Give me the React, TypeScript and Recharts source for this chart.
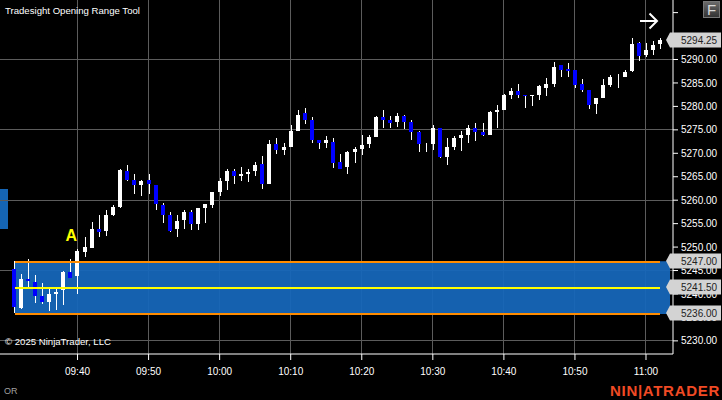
import {
  Bar,
  CartesianGrid,
  ComposedChart,
  ReferenceArea,
  ReferenceDot,
  ReferenceLine,
  XAxis,
  YAxis,
} from "recharts";

const FIRST_MINUTE = 9 * 60 + 31;

const opens = [
  5245.25, 5237, 5243.25, 5242.5, 5239.5, 5238.25, 5240, 5240.75, 5244.75, 5243.75,
  5249, 5249.75, 5253.75, 5253.5, 5256.75, 5258.5, 5266.25, 5264.25, 5263.25, 5264.25,
  5263.25, 5259, 5256.75, 5253.75, 5255.75, 5257.5, 5255, 5258.25, 5259, 5261.75,
  5264, 5266.25, 5265.25, 5265.5, 5266.25, 5267.75, 5263.5, 5272, 5270.75, 5271.25,
  5274.75, 5278.5, 5277, 5272.75, 5272.25, 5272.5, 5268.25, 5267, 5270.25, 5271,
  5272, 5273.5, 5277.75, 5277, 5276.75, 5278, 5276.75, 5274.5, 5272.25, 5272,
  5275.5, 5269.25, 5271.25, 5273.25, 5274, 5275.5, 5274.5, 5274, 5278.75, 5279.25,
  5282.5, 5283.25, 5282.5, 5282.25, 5282.5, 5284, 5284.75, 5288.75, 5288, 5287.75,
  5284.75, 5283.5, 5280.5, 5281.75, 5284.5, 5286.25, 5286.25, 5287.5, 5293.5, 5291,
  5292, 5293.25,
];
const highs = [
  5247, 5244.25, 5247.5, 5244, 5242.25, 5241, 5241.25, 5245, 5247.5, 5249.5,
  5252.25, 5255.25, 5256.75, 5258, 5259, 5266.75, 5267.5, 5265.5, 5264.25, 5265.5,
  5263.25, 5259.5, 5257.5, 5256.75, 5258, 5258, 5258.25, 5259.25, 5261.75, 5264.75,
  5266.75, 5266.75, 5267, 5266.75, 5268.25, 5269.5, 5272.75, 5273.25, 5272.25, 5276,
  5279.25, 5279.75, 5277.75, 5272.75, 5273.75, 5273.25, 5269.75, 5270.5, 5271.25, 5274,
  5274, 5278, 5279.25, 5278, 5278.5, 5278.25, 5277, 5274.75, 5272.25, 5276,
  5275.5, 5273.25, 5273.75, 5274.75, 5276, 5276.5, 5276.5, 5279, 5280.25, 5282.75,
  5284, 5284.75, 5282.5, 5282.5, 5284.5, 5286, 5289.5, 5288.75, 5289.25, 5287.75,
  5285.75, 5283.5, 5281.75, 5285.75, 5286.75, 5287, 5287.75, 5294.5, 5293.75, 5293.5,
  5294, 5294.5,
];
const lows = [
  5236, 5236.75, 5241.5, 5238, 5237.75, 5236.25, 5236.5, 5237.75, 5243.5, 5240,
  5248, 5249.75, 5252, 5252.5, 5256.75, 5258.5, 5264, 5261.25, 5260.75, 5261.25,
  5258, 5255.25, 5253.25, 5252, 5254, 5253.75, 5253.5, 5255.25, 5258.25, 5261,
  5262.25, 5263.5, 5264, 5264, 5265.25, 5262.5, 5263.5, 5269.75, 5269.75, 5271.25,
  5274.75, 5276.25, 5272.25, 5270.75, 5271.25, 5266.75, 5266.75, 5265.5, 5267.75, 5269.75,
  5271.25, 5273.5, 5275.5, 5275.5, 5275.5, 5275.25, 5272.75, 5270.25, 5270.25, 5270.75,
  5269, 5267.5, 5270.75, 5270.5, 5272.25, 5272.75, 5273.75, 5274, 5275.25, 5279.25,
  5281.75, 5281.75, 5279.75, 5280.25, 5281.25, 5282.25, 5284.25, 5286.25, 5286.25, 5284,
  5283, 5279.5, 5278.25, 5281.75, 5284.25, 5284, 5286.25, 5287.25, 5289.75, 5290.5,
  5291, 5292.25,
];
const closes = [
  5237.25, 5243.25, 5242.75, 5239.5, 5238.25, 5240, 5240.5, 5244.75, 5243.5, 5249.25,
  5250, 5253.75, 5253.25, 5256.75, 5258.5, 5266.5, 5264.25, 5263.25, 5264, 5263.5,
  5259.25, 5256.75, 5253.5, 5255.5, 5257.5, 5255, 5258.25, 5259.25, 5261.75, 5264,
  5266.25, 5265.25, 5265.5, 5266, 5267.5, 5263.5, 5272, 5270.75, 5271.25, 5274.75,
  5278.25, 5277, 5272.75, 5272.25, 5272.75, 5268, 5266.75, 5270.25, 5271, 5271.75,
  5273.5, 5277.75, 5277, 5276.5, 5278, 5276.75, 5274.5, 5272, 5272.25, 5275.5,
  5269.25, 5271.25, 5273.25, 5274, 5275.5, 5274.5, 5274, 5278.75, 5279.25, 5282.5,
  5283.25, 5282.5, 5282.25, 5282.5, 5284.25, 5284.75, 5288.5, 5287.75, 5287.5, 5284.5,
  5283.5, 5280.25, 5281.75, 5284.5, 5286.25, 5286.25, 5287.25, 5293.25, 5290.75, 5292,
  5293, 5294.25,
];

const timeTicks = [580, 590, 600, 610, 620, 630, 640, 650, 660];
const priceTicks = [
  5230, 5235, 5240, 5245, 5250, 5255, 5260, 5265, 5270, 5275, 5280, 5285, 5290, 5295, 5300,
];
const gridPrices = [5230, 5245, 5260, 5275, 5290];

const rangeHigh = 5247;
const rangeMid = 5241.5;
const rangeLow = 5236;
const lastPrice = 5294.25;
const tagPrices = [lastPrice, rangeHigh, rangeMid, rangeLow];

const X_MIN = 569.09;
const X_MAX = 663.8;
const Y_MIN = 5227.2;
const Y_MAX = 5302.69;
const RANGE_START = 571.2;
const RANGE_END = 662;
const BOX_END = 663.38;

const candles = opens.map((open, i) => ({
  minute: FIRST_MINUTE + i,
  open,
  close: closes[i],
  high: highs[i],
  low: lows[i],
  range: [lows[i], highs[i]],
}));

const formatTime = (m: number) => {
  const h = Math.floor(m / 60);
  return `${String(h).padStart(2, "0")}:${String(m % 60).padStart(2, "0")}`;
};

const UI_FONT = "'Liberation Sans', Arial, sans-serif";

function Candle(props: any) {
  const { x, y, width, height, payload } = props;
  const perPoint = height / (payload.high - payload.low);
  const cx = Math.round(x + width / 2);
  const top = Math.round(y + (payload.high - Math.max(payload.open, payload.close)) * perPoint);
  const bottom = Math.round(y + (payload.high - Math.min(payload.open, payload.close)) * perPoint);
  const down = payload.close < payload.open;
  return (
    <g>
      <rect x={cx} y={Math.round(y)} width={1} height={Math.round(height)} fill="#ffffff" />
      {bottom > top && (
        <rect x={cx - 2} y={top} width={4} height={bottom - top} fill={down ? "#0000ff" : "#ffffff"} />
      )}
    </g>
  );
}

function RangeLine(props: any) {
  const { x1, x2, y1, color } = props;
  return <rect x={Math.round(x1)} y={Math.round(y1)} width={Math.round(x2 - x1)} height={2} fill={color} />;
}

function PriceTag(props: any) {
  const { cy, value } = props;
  const x = 673;
  const y = Math.round(cy);
  return (
    <g>
      <path
        d={`M${x - 7} ${y} L${x - 3} ${y - 7.5} H${x + 48} V${y + 7.5} H${x - 3} Z`}
        fill="#d3d3d3"
      />
      <text x={x + 8} y={y + 4} fontSize={10} fontFamily={UI_FONT} fill="#222222">
        {value.toFixed(2)}
      </text>
    </g>
  );
}

function App() {
  return (
    <div
      style={{
        position: "absolute",
        left: 0,
        top: 0,
        width: 722,
        height: 400,
        background: "#000000",
        overflow: "hidden",
        fontFamily: UI_FONT,
      }}
    >
      <div style={{ position: "absolute", left: 0, top: 189, width: 8, height: 40, background: "#1565b4" }} />
      <ComposedChart
        width={722}
        height={400}
        data={candles}
        margin={{ top: 0, right: 0, bottom: 0, left: 0 }}
        style={{ position: "absolute", left: 0, top: 0 }}
      >
        <CartesianGrid
          stroke="#5c5c5c"
          strokeWidth={1}
          shapeRendering="crispEdges"
          horizontalValues={gridPrices}
          verticalValues={timeTicks}
        />
        <XAxis
          dataKey="minute"
          type="number"
          domain={[X_MIN, X_MAX]}
          allowDataOverflow
          ticks={timeTicks}
          tickFormatter={formatTime}
          height={46}
          stroke="#ffffff"
          tick={{ fill: "#ffffff", fontSize: 10, fontFamily: UI_FONT }}
          tickSize={6}
          tickMargin={8}
        />
        <YAxis
          orientation="right"
          type="number"
          domain={[Y_MIN, Y_MAX]}
          allowDataOverflow
          ticks={priceTicks}
          tickFormatter={(v: number) => (v > 5290 ? "" : v.toFixed(2))}
          width={49}
          stroke="#ffffff"
          tick={{ fill: "#ffffff", fontSize: 10, fontFamily: UI_FONT, textAnchor: "start" }}
          tickSize={5}
          tickMargin={3}
        />
        <ReferenceArea
          x1={RANGE_START}
          x2={BOX_END}
          y1={rangeLow - 0.25}
          y2={rangeHigh}
          fill="#1666b8"
          fillOpacity={0.95}
          stroke="none"
          ifOverflow="visible"
        />
        <ReferenceLine
          zIndex={700}
          segment={[{ x: RANGE_START, y: rangeHigh }, { x: RANGE_END, y: rangeHigh }]}
          shape={(p: any) => <RangeLine {...p} color="#ff8c00" />}
        />
        <ReferenceLine
          zIndex={700}
          segment={[{ x: RANGE_START, y: rangeLow }, { x: RANGE_END, y: rangeLow }]}
          shape={(p: any) => <RangeLine {...p} color="#ff8c00" />}
        />
        <ReferenceLine
          zIndex={700}
          segment={[{ x: RANGE_START, y: rangeMid }, { x: RANGE_END, y: rangeMid }]}
          shape={(p: any) => <RangeLine {...p} color="#ffff00" />}
        />
        <Bar dataKey="range" barSize={5} shape={Candle} isAnimationActive={false} />
        {tagPrices.map((price) => (
          <ReferenceDot
            key={price}
            x={X_MAX}
            y={price}
            ifOverflow="visible"
            zIndex={3000}
            shape={(p: any) => <PriceTag {...p} value={price} />}
          />
        ))}
      </ComposedChart>

      <div style={{ position: "absolute", left: 5, top: 5, color: "#ffffff", fontSize: 9.6 }}>
        Tradesight Opening Range Tool
      </div>
      <div style={{ position: "absolute", left: 65.5, top: 227, color: "#ffff00", fontSize: 16, fontWeight: 700 }}>
        A
      </div>
      <div style={{ position: "absolute", left: 5, top: 336, color: "#ffffff", fontSize: 9.6 }}>
        © 2025 NinjaTrader, LLC
      </div>
      <div style={{ position: "absolute", left: 4, top: 386, color: "#a0a0a0", fontSize: 9 }}>OR</div>
      <div
        style={{
          position: "absolute",
          left: 610,
          top: 382,
          color: "#f04a24",
          fontSize: 15,
          fontWeight: 700,
          letterSpacing: 0.7,
          whiteSpace: "nowrap",
        }}
      >
        NIN|ATRADER
      </div>
      <div
        style={{
          position: "absolute",
          left: 703,
          top: 1,
          width: 15,
          height: 15,
          border: "1px solid #777777",
          background: "linear-gradient(#6a6a6a, #333333)",
          color: "#d8d8d8",
          fontSize: 15,
          lineHeight: "15px",
          textAlign: "center",
        }}
      >
        F
      </div>
      <svg style={{ position: "absolute", left: 638, top: 12 }} width={22} height={18}>
        <path d="M2 9 H19 M11.5 1.5 L19 9 L11.5 16.5" stroke="#ffffff" strokeWidth={2} fill="none" />
      </svg>
    </div>
  );
}

export default App;
